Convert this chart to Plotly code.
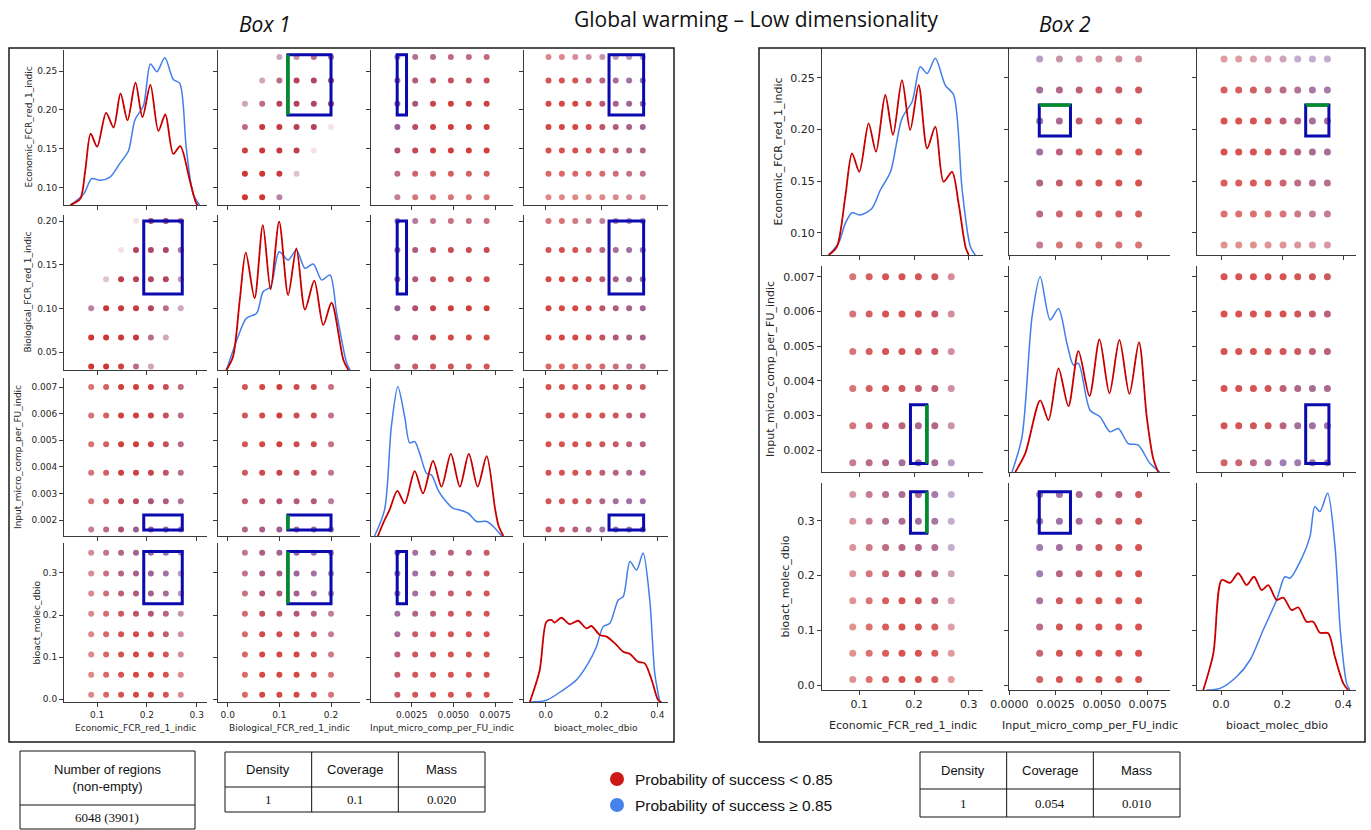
import plotly.graph_objects as go

# ------------------------------------------------------------------ data
VAR_NAMES = {'E': 'Economic_FCR_red_1_indic', 'B': 'Biological_FCR_red_1_indic',
             'I': 'Input_micro_comp_per_FU_indic', 'D': 'bioact_molec_dbio'}

E_LEVELS = [0.088, 0.118, 0.148, 0.178, 0.208, 0.238, 0.268]
B_LEVELS = [0.0333, 0.0667, 0.1, 0.1333, 0.1667, 0.2]
I_LEVELS = [0.00164, 0.00271, 0.00378, 0.00485, 0.00593, 0.0070]
D_LEVELS = [0.010, 0.058, 0.106, 0.154, 0.203, 0.251, 0.299, 0.348]
LEVELS = {'E': E_LEVELS, 'B': B_LEVELS, 'I': I_LEVELS, 'D': D_LEVELS}

# share of successful scenarios per grid cell (0 = red, 1 = blue); rows = first variable
B1_EB_P = [[0.05, 0.05, 0.50, None, None, None],
           [0.05, 0.05, 0.10, 0.50, None, None],
           [0.08, 0.10, 0.15, 0.20, 0.10, None],
           [0.35, 0.12, 0.15, 0.25, 0.30, 0.20],
           [0.45, 0.40, 0.30, 0.30, 0.35, 0.35],
           [None, 0.50, 0.40, 0.30, 0.35, 0.40],
           [None, None, 0.55, 0.40, 0.45, 0.50]]
B1_EB_A = [[1.0, 1.0, 0.7, None, None, None],
           [1.0, 1.0, 1.0, 0.35, None, None],
           [0.95, 1.0, 1.0, 1.0, 0.15, None],
           [0.8, 1.0, 1.0, 1.0, 1.0, 0.15],
           [0.5, 0.8, 1.0, 1.0, 1.0, 1.0],
           [None, 0.5, 0.8, 1.0, 1.0, 1.0],
           [None, None, 0.5, 0.6, 0.8, 0.8]]
B1_EI_P = [[0.40, 0.15, 0.12, 0.10, 0.10, 0.10],
           [0.35, 0.18, 0.12, 0.10, 0.10, 0.10],
           [0.40, 0.20, 0.08, 0.05, 0.05, 0.05],
           [0.60, 0.30, 0.10, 0.03, 0.05, 0.05],
           [0.65, 0.45, 0.15, 0.08, 0.08, 0.08],
           [0.65, 0.45, 0.25, 0.20, 0.20, 0.15],
           [0.70, 0.50, 0.40, 0.35, 0.35, 0.30]]
B1_EI_A = [0.7, 0.8, 0.95, 0.95, 0.95, 0.9, 0.8]
B1_ED_P = [[0.08, 0.08, 0.08, 0.10, 0.12, 0.15, 0.20, 0.25],
           [0.05, 0.05, 0.06, 0.08, 0.12, 0.20, 0.30, 0.35],
           [0.05, 0.04, 0.04, 0.06, 0.15, 0.30, 0.40, 0.45],
           [0.04, 0.03, 0.03, 0.05, 0.25, 0.40, 0.50, 0.55],
           [0.04, 0.03, 0.03, 0.08, 0.35, 0.50, 0.60, 0.65],
           [0.08, 0.06, 0.10, 0.25, 0.40, 0.55, 0.65, 0.70],
           [0.15, 0.15, 0.25, 0.35, 0.45, 0.55, 0.60, 0.65]]
B1_ED_A = [0.6, 0.75, 0.85, 0.9, 0.9, 0.85, 0.6]
B1_BI_P = [[0.45, 0.25, 0.12, 0.10, 0.10, 0.10],
           [0.50, 0.30, 0.10, 0.05, 0.05, 0.05],
           [0.60, 0.35, 0.12, 0.05, 0.05, 0.05],
           [0.60, 0.40, 0.20, 0.12, 0.12, 0.10],
           [0.65, 0.40, 0.20, 0.12, 0.12, 0.12],
           [0.70, 0.50, 0.35, 0.30, 0.30, 0.25]]
B1_BI_A = [0.85, 0.9, 0.95, 0.9, 0.9, 0.75]
B1_BD_P = [[0.05, 0.05, 0.05, 0.08, 0.15, 0.25, 0.35, 0.40],
           [0.03, 0.03, 0.03, 0.06, 0.20, 0.35, 0.45, 0.50],
           [0.03, 0.03, 0.03, 0.08, 0.25, 0.40, 0.50, 0.55],
           [0.04, 0.03, 0.04, 0.10, 0.35, 0.50, 0.60, 0.65],
           [0.06, 0.05, 0.06, 0.20, 0.40, 0.55, 0.65, 0.70],
           [0.12, 0.12, 0.20, 0.35, 0.45, 0.60, 0.65, 0.70]]
B1_BD_A = [0.75, 0.9, 0.9, 0.9, 0.85, 0.7]
B1_ID_P = [[0.20, 0.25, 0.35, 0.55, 0.65, 0.70, 0.70, 0.70],
           [0.08, 0.10, 0.12, 0.20, 0.45, 0.60, 0.65, 0.65],
           [0.05, 0.05, 0.06, 0.10, 0.30, 0.40, 0.50, 0.50],
           [0.05, 0.05, 0.05, 0.06, 0.12, 0.20, 0.30, 0.35],
           [0.05, 0.05, 0.05, 0.05, 0.08, 0.12, 0.25, 0.35],
           [0.05, 0.05, 0.05, 0.05, 0.06, 0.10, 0.15, 0.20]]
B1_ID_A = [0.85, 0.85, 0.85, 0.85, 0.85, 0.85]

B2_EI_P = [[0.35, 0.15, 0.12, 0.12, 0.12, 0.12],
           [0.40, 0.20, 0.10, 0.10, 0.10, 0.10],
           [0.45, 0.25, 0.10, 0.06, 0.05, 0.05],
           [0.60, 0.35, 0.15, 0.08, 0.05, 0.05],
           [0.65, 0.50, 0.25, 0.12, 0.08, 0.08],
           [0.55, 0.45, 0.30, 0.20, 0.20, 0.15],
           [0.70, 0.45, 0.35, 0.30, 0.30, 0.25]]
B2_EI_A = [0.7, 0.8, 0.85, 0.85, 0.85, 0.85, 0.6]
B2_ED_P = [[0.08, 0.08, 0.08, 0.10, 0.15, 0.20, 0.25, 0.30],
           [0.05, 0.05, 0.05, 0.08, 0.15, 0.25, 0.35, 0.35],
           [0.04, 0.04, 0.04, 0.06, 0.20, 0.35, 0.45, 0.45],
           [0.03, 0.03, 0.03, 0.05, 0.25, 0.40, 0.50, 0.55],
           [0.03, 0.03, 0.04, 0.10, 0.30, 0.45, 0.60, 0.55],
           [0.06, 0.06, 0.10, 0.30, 0.40, 0.50, 0.60, 0.65],
           [0.12, 0.12, 0.25, 0.35, 0.45, 0.70, 0.70, 0.75]]
B2_ED_A = [0.55, 0.7, 0.8, 0.85, 0.85, 0.8, 0.5]
B2_ID_P = [[0.15, 0.20, 0.35, 0.55, 0.75, 0.70, 0.65, 0.65],
           [0.08, 0.08, 0.10, 0.15, 0.40, 0.60, 0.65, 0.65],
           [0.05, 0.05, 0.05, 0.08, 0.30, 0.45, 0.55, 0.50],
           [0.04, 0.04, 0.04, 0.05, 0.10, 0.15, 0.30, 0.35],
           [0.04, 0.04, 0.04, 0.04, 0.06, 0.10, 0.20, 0.35],
           [0.04, 0.04, 0.04, 0.04, 0.05, 0.08, 0.10, 0.15]]
B2_ID_A = [0.8, 0.85, 0.85, 0.85, 0.85, 0.85]

# KDE curves (value, relative density height)
B1_E_RED = [(0.046, 0), (0.066, 0.04), (0.076, 0.22), (0.087, 0.46), (0.100, 0.376), (0.118, 0.594),
            (0.133, 0.50), (0.147, 0.72), (0.161, 0.546), (0.177, 0.79), (0.191, 0.567), (0.207, 0.775),
            (0.223, 0.478), (0.237, 0.584), (0.253, 0.33), (0.267, 0.38), (0.286, 0.16), (0.299, 0.01), (0.302, 0)]
B1_E_BLUE = [(0.046, 0), (0.073, 0.07), (0.089, 0.17), (0.106, 0.16), (0.126, 0.18), (0.146, 0.27),
             (0.163, 0.35), (0.176, 0.55), (0.193, 0.64), (0.207, 0.91), (0.220, 0.86), (0.236, 0.95),
             (0.253, 0.81), (0.266, 0.785), (0.279, 0.37), (0.293, 0.07), (0.306, 0)]
B1_B_RED = [(-0.0025, 0), (0.0103, 0.086), (0.0233, 0.45), (0.035, 0.757), (0.052, 0.463), (0.068, 0.935),
            (0.083, 0.52), (0.0996, 0.957), (0.117, 0.484), (0.133, 0.785), (0.1495, 0.39), (0.1676, 0.576),
            (0.185, 0.29), (0.201, 0.434), (0.224, 0.065), (0.2336, 0)]
B1_B_BLUE = [(-0.0025, 0), (0.02, 0.215), (0.036, 0.334), (0.056, 0.366), (0.0685, 0.505), (0.083, 0.537),
             (0.0996, 0.763), (0.117, 0.71), (0.133, 0.774), (0.1495, 0.656), (0.1656, 0.684), (0.182, 0.58),
             (0.198, 0.613), (0.211, 0.366), (0.2305, 0.043), (0.237, 0)]
B1_I_RED = [(0.00047, 0), (0.00087, 0.10), (0.00117, 0.165), (0.00164, 0.285), (0.00208, 0.206),
            (0.00268, 0.411), (0.00318, 0.27), (0.00378, 0.475), (0.00429, 0.312), (0.00485, 0.52),
            (0.00539, 0.312), (0.00593, 0.52), (0.00646, 0.312), (0.0070, 0.506), (0.0075, 0.175),
            (0.0077, 0.07), (0.0080, 0)]
B1_I_BLUE = [(0.00027, 0), (0.00087, 0.165), (0.00128, 0.692), (0.00167, 0.945), (0.00208, 0.755),
             (0.00238, 0.59), (0.00268, 0.597), (0.00298, 0.523), (0.00339, 0.397), (0.00369, 0.386),
             (0.00408, 0.291), (0.00449, 0.228), (0.00499, 0.175), (0.00539, 0.165), (0.00589, 0.144),
             (0.0064, 0.092), (0.0070, 0.092), (0.0074, 0.06), (0.0079, 0)]
B1_D_RED = [(-0.057, 0), (-0.0215, 0.20), (0.0025, 0.505), (0.0205, 0.516), (0.032, 0.499), (0.056, 0.53),
            (0.086, 0.49), (0.116, 0.511), (0.146, 0.463), (0.164, 0.478), (0.194, 0.421), (0.218, 0.411),
            (0.248, 0.369), (0.278, 0.316), (0.302, 0.302), (0.331, 0.253), (0.355, 0.243), (0.38, 0.138),
            (0.403, 0.013), (0.415, 0)]
B1_D_BLUE = [(-0.057, 0), (0.0025, 0.011), (0.062, 0.075), (0.11, 0.138), (0.152, 0.243), (0.182, 0.348),
             (0.206, 0.474), (0.23, 0.495), (0.26, 0.642), (0.278, 0.663), (0.302, 0.883), (0.326, 0.83),
             (0.349, 0.937), (0.373, 0.642), (0.391, 0.18), (0.409, 0)]

B2_E_RED = [(0.0439, 0), (0.059, 0.04), (0.0744, 0.282), (0.0867, 0.491), (0.100, 0.402), (0.117, 0.636),
            (0.1305, 0.499), (0.1475, 0.773), (0.1616, 0.58), (0.178, 0.845), (0.193, 0.604), (0.2085, 0.821),
            (0.224, 0.515), (0.239, 0.62), (0.254, 0.354), (0.2695, 0.402), (0.2815, 0.249), (0.294, 0.04),
            (0.300, 0)]
B2_E_BLUE = [(0.0439, 0), (0.062, 0.057), (0.0744, 0.153), (0.0867, 0.204), (0.102, 0.193), (0.123, 0.225),
             (0.1385, 0.314), (0.157, 0.402), (0.178, 0.66), (0.1965, 0.74), (0.2115, 0.909), (0.224, 0.877),
             (0.239, 0.95), (0.257, 0.821), (0.2725, 0.773), (0.288, 0.314), (0.303, 0.04), (0.312, 0)]
B2_I_RED = [(0.00032, 0), (0.00086, 0.09), (0.00167, 0.348), (0.00212, 0.252), (0.00266, 0.503),
            (0.0032, 0.32), (0.00374, 0.587), (0.00434, 0.369), (0.00488, 0.644), (0.00542, 0.382),
            (0.00596, 0.641), (0.0065, 0.379), (0.00702, 0.63), (0.00744, 0.268), (0.00779, 0.066),
            (0.00806, 0)]
B2_I_BLUE = [(0.000146, 0.0), (0.000686, 0.172), (0.00123, 0.754), (0.00167, 0.948), (0.00221, 0.738),
             (0.00266, 0.794), (0.00312, 0.624), (0.00347, 0.519), (0.00374, 0.527), (0.00437, 0.30),
             (0.00491, 0.268), (0.00545, 0.195), (0.0059, 0.211), (0.00644, 0.138), (0.00698, 0.13),
             (0.00761, 0.042), (0.00815, 0)]
B2_D_RED = [(-0.058, 0), (-0.025, 0.177), (0.0023, 0.531), (0.0294, 0.518), (0.0565, 0.564), (0.084, 0.507),
            (0.108, 0.547), (0.133, 0.483), (0.1546, 0.507), (0.182, 0.435), (0.2036, 0.446), (0.231, 0.386),
            (0.2526, 0.399), (0.28, 0.33), (0.3016, 0.33), (0.3235, 0.277), (0.3507, 0.274), (0.3725, 0.161),
            (0.40, 0.032), (0.416, 0)]
B2_D_BLUE = [(-0.047, 0), (-0.003, 0.008), (0.051, 0.064), (0.095, 0.145), (0.138, 0.29), (0.182, 0.435),
             (0.209, 0.547), (0.2255, 0.54), (0.264, 0.636), (0.291, 0.741), (0.307, 0.886), (0.3235, 0.862),
             (0.3487, 0.95), (0.3725, 0.70), (0.391, 0.274), (0.411, 0.032), (0.4216, 0)]

# box (restricted region) limits
BOX1_LIMITS = {'E': (0.1936, 0.271), 'B': (0.1165, 0.2), 'I': (0.00163, 0.00219), 'D': (0.227, 0.351)}
BOX2_LIMITS = {'E': (0.1935, 0.2235), 'I': (0.00162, 0.00331), 'D': (0.277, 0.353)}

# tick labels
B1_XTICKS = {'E': ['0.1', '0.2', '0.3'], 'B': ['0.0', '0.1', '0.2'],
             'I': ['0.0025', '0.0050', '0.0075'], 'D': ['0.0', '0.2', '0.4']}
B1_YTICKS = {'E': ['0.10', '0.15', '0.20', '0.25'], 'B': ['0.05', '0.10', '0.15', '0.20'],
             'I': ['0.002', '0.003', '0.004', '0.005', '0.006', '0.007'], 'D': ['0.0', '0.1', '0.2', '0.3']}
B2_XTICKS = {'E': ['0.1', '0.2', '0.3'], 'I': ['0.0000', '0.0025', '0.0050', '0.0075'],
             'D': ['0.0', '0.2', '0.4']}
B2_YTICKS = {'E': ['0.10', '0.15', '0.20', '0.25'],
             'I': ['0.002', '0.003', '0.004', '0.005', '0.006', '0.007'], 'D': ['0.0', '0.1', '0.2', '0.3']}

TITLE = 'Global warming – Low dimensionality'
BOX_TITLES = ['Box 1', 'Box 2']
TABLE_HEADERS = ['Density', 'Coverage', 'Mass']
BOX1_STATS = ['1', '0.1', '0.020']
BOX2_STATS = ['1', '0.054', '0.010']
REGIONS_LABEL = 'Number of regions<br>(non-empty)'
REGIONS_VALUE = '6048 (3901)'
LEGEND_LABELS = ['Probability of success < 0.85', 'Probability of success ≥ 0.85']

# ------------------------------------------------------------------ styling / layout
W, H = 1371, 830
RED = (212, 50, 42)
BLUE = (105, 108, 205)
KDE_RED = 'rgb(215,0,0)'
KDE_BLUE = 'rgb(65,125,235)'
RECT_BLUE = 'rgb(10,10,175)'
RECT_GREEN = 'rgb(0,140,40)'
AXC = '#3a3a3a'


def px(x):
    return x / W


def py(y):
    return 1 - y / H


def dot_color(p, a):
    r = RED[0] * (1 - p) + BLUE[0] * p
    g = RED[1] * (1 - p) + BLUE[1] * p
    b = RED[2] * (1 - p) + BLUE[2] * p
    return f'rgba({r:.0f},{g:.0f},{b:.0f},{a:.2f})'


fig = go.Figure()
layout = {}
shapes = []
annotations = []
counters = {'x': 0, 'y': 0}


def new_id(kind):
    counters[kind] += 1
    return counters[kind]


def aname(kind, n):
    return f'{kind}axis' if n == 1 else f'{kind}axis{n}'


def aref(kind, n):
    return kind if n == 1 else f'{kind}{n}'


def axis_dict(domain, rng, anchor, labels, show, fs):
    return dict(domain=domain, range=rng, anchor=anchor, showline=True, linecolor=AXC, linewidth=1,
                ticks='outside', ticklen=4, tickwidth=1, tickcolor=AXC, automargin=False,
                tickvals=[float(s) for s in labels], ticktext=labels, showticklabels=show,
                tickfont=dict(family='DejaVu Sans', size=fs, color='#262626'),
                showgrid=False, zeroline=False, fixedrange=True, layer='above traces')


def get_cell(grids, rv, cv, i_r, i_c):
    if (rv, cv) in grids:
        P, A = grids[(rv, cv)]
        p = P[i_r][i_c]
        a = A[i_r][i_c] if isinstance(A[i_r], list) else A[i_r]
    else:
        P, A = grids[(cv, rv)]
        p = P[i_c][i_r]
        a = A[i_c][i_r] if isinstance(A[i_c], list) else A[i_c]
    return p, a


def add_box(spec):
    vs = spec['vars']
    nv = len(vs)
    for r, rv in enumerate(vs):
        for c, cv in enumerate(vs):
            xi, yi = new_id('x'), new_id('y')
            x0, x1 = spec['cols'][c]
            y0, y1 = spec['rows'][r]
            layout[aname('x', xi)] = axis_dict([px(x0), px(x1)], spec['xr'][cv], aref('y', yi),
                                               spec['xt'][cv], r == nv - 1, spec['fs'])
            layout[aname('y', yi)] = axis_dict([py(y1), py(y0)], spec['yr'][rv], aref('x', xi),
                                               spec['yt'][rv], c == 0, spec['fs'])
            if r == c:
                # empty trace so that the main (x, y) subplot of the diagonal cell exists
                fig.add_trace(go.Scatter(x=[None], y=[None], mode='markers', showlegend=False,
                                         xaxis=aref('x', xi), yaxis=aref('y', yi), hoverinfo='skip'))
                yo = new_id('y')
                layout[aname('y', yo)] = dict(domain=[py(y1), py(y0)], anchor=aref('x', xi), range=[0, 1],
                                              visible=False, fixedrange=True, automargin=False,
                                              showgrid=False, zeroline=False)
                for pts, col, w in ((spec['kde'][cv][1], KDE_BLUE, 1.5), (spec['kde'][cv][0], KDE_RED, 1.8)):
                    fig.add_trace(go.Scatter(x=[p[0] for p in pts], y=[p[1] for p in pts], mode='lines',
                                             line=dict(color=col, width=w, shape='spline', smoothing=0.8),
                                             xaxis=aref('x', xi), yaxis=aref('y', yo), hoverinfo='skip'))
                pts = spec['kde'][cv][0]
                fig.add_trace(go.Scatter(x=[p[0] for p in pts], y=[p[1] for p in pts], mode='lines',
                                         line=dict(color='rgba(60,0,0,0.35)', width=0.8, dash='3px,3px',
                                                   shape='spline', smoothing=0.8),
                                         xaxis=aref('x', xi), yaxis=aref('y', yo), hoverinfo='skip'))
            else:
                xs, ys, cols = [], [], []
                for i_r, yv in enumerate(LEVELS[rv]):
                    for i_c, xv in enumerate(LEVELS[cv]):
                        p, a = get_cell(spec['grids'], rv, cv, i_r, i_c)
                        if p is None:
                            continue
                        xs.append(xv)
                        ys.append(yv)
                        cols.append(dot_color(p, a))
                fig.add_trace(go.Scatter(x=xs, y=ys, mode='markers',
                                         marker=dict(size=spec['dot'], color=cols, line=dict(width=0)),
                                         xaxis=aref('x', xi), yaxis=aref('y', yi), hoverinfo='skip'))
                lim = spec['limits']
                xa, xb = lim[cv]
                ya, yb = lim[rv]
                xr_, yr_ = aref('x', xi), aref('y', yi)
                shapes.append(dict(type='rect', xref=xr_, yref=yr_, x0=xa, x1=xb, y0=ya, y1=yb,
                                   line=dict(color=RECT_BLUE, width=3), layer='above'))
                gv, gside, gaxes = spec['green']
                if cv == gv and 'x' in gaxes:
                    gx = xa if gside == 'low' else xb
                    shapes.append(dict(type='line', xref=xr_, yref=yr_, x0=gx, x1=gx, y0=ya, y1=yb,
                                       line=dict(color=RECT_GREEN, width=3.5), layer='above'))
                if rv == gv and 'y' in gaxes:
                    gy = ya if gside == 'low' else yb
                    shapes.append(dict(type='line', xref=xr_, yref=yr_, x0=xa, x1=xb, y0=gy, y1=gy,
                                       line=dict(color=RECT_GREEN, width=3.5), layer='above'))
    # axis titles
    for c, cv in enumerate(vs):
        x0, x1 = spec['cols'][c]
        annotations.append(dict(text=VAR_NAMES[cv], x=px((x0 + x1) / 2), y=py(spec['xtitle_y']), xref='paper',
                                yref='paper', showarrow=False, xanchor='center', yanchor='middle',
                                font=dict(family='DejaVu Sans', size=spec['fs'], color='#262626')))
    for r, rv in enumerate(vs):
        y0, y1 = spec['rows'][r]
        annotations.append(dict(text=VAR_NAMES[rv], x=px(spec['ytitle_x'][r]), y=py((y0 + y1) / 2), xref='paper',
                                yref='paper', showarrow=False, textangle=-90, xanchor='center',
                                yanchor='middle',
                                font=dict(family='DejaVu Sans', size=spec['fs'], color='#262626')))


box1 = dict(vars=['E', 'B', 'I', 'D'],
            cols=[(64, 207), (218, 360), (371, 513), (524, 668)],
            rows=[(50, 205), (215, 370), (378, 536), (543, 702)],
            xr={'E': [0.0334, 0.3207], 'B': [-0.0188, 0.2561], 'I': [0.000058, 0.00858], 'D': [-0.0778, 0.4384]},
            yr={'E': [0.078, 0.277], 'B': [0.0294, 0.2069], 'I': [0.0014, 0.00734], 'D': [-0.0071, 0.3714]},
            xt=B1_XTICKS, yt=B1_YTICKS, fs=9, dot=6,
            grids={('E', 'B'): (B1_EB_P, B1_EB_A), ('E', 'I'): (B1_EI_P, B1_EI_A), ('E', 'D'): (B1_ED_P, B1_ED_A),
                   ('B', 'I'): (B1_BI_P, B1_BI_A), ('B', 'D'): (B1_BD_P, B1_BD_A), ('I', 'D'): (B1_ID_P, B1_ID_A)},
            kde={'E': (B1_E_RED, B1_E_BLUE), 'B': (B1_B_RED, B1_B_BLUE), 'I': (B1_I_RED, B1_I_BLUE),
                 'D': (B1_D_RED, B1_D_BLUE)},
            limits=BOX1_LIMITS, green=('B', 'low', 'x'),
            xtitle_y=728, ytitle_x=[28, 28, 18, 36])
box2 = dict(vars=['E', 'I', 'D'],
            cols=[(822, 983), (1009, 1170), (1197, 1356)],
            rows=[(48, 255), (266, 472), (483, 690)],
            xr={'E': [0.0318, 0.3261], 'I': [-0.00002, 0.0087], 'D': [-0.0785, 0.4416]},
            yr={'E': [0.0784, 0.2787], 'I': [0.001375, 0.00731], 'D': [-0.0091, 0.3688]},
            xt=B2_XTICKS, yt=B2_YTICKS, fs=11, dot=7,
            grids={('E', 'I'): (B2_EI_P, B2_EI_A), ('E', 'D'): (B2_ED_P, B2_ED_A), ('I', 'D'): (B2_ID_P, B2_ID_A)},
            kde={'E': (B2_E_RED, B2_E_BLUE), 'I': (B2_I_RED, B2_I_BLUE), 'D': (B2_D_RED, B2_D_BLUE)},
            limits=BOX2_LIMITS, green=('E', 'high', 'xy'),
            xtitle_y=725, ytitle_x=[778, 770, 785])

add_box(box1)
add_box(box2)

# frames around the two boxes
for x0, x1 in ((9, 674), (759, 1365)):
    shapes.append(dict(type='rect', xref='paper', yref='paper', x0=px(x0), x1=px(x1), y0=py(742), y1=py(48),
                       line=dict(color='#1a1a1a', width=1.5)))

# titles
annotations.append(dict(text=TITLE, x=px(756), y=py(19), xref='paper', yref='paper', showarrow=False,
                        xanchor='center', yanchor='middle',
                        font=dict(family='Open Sans', size=21, color='#111')))
for t, xc in zip(BOX_TITLES, (265, 1065)):
    annotations.append(dict(text=f'<i>{t}</i>', x=px(xc), y=py(24), xref='paper', yref='paper', showarrow=False,
                            xanchor='center', yanchor='middle',
                            font=dict(family='Open Sans', size=21, color='#111')))


def hline(x0, x1, y):
    shapes.append(dict(type='line', xref='paper', yref='paper', x0=px(x0), x1=px(x1), y0=py(y), y1=py(y),
                       line=dict(color='#111', width=1)))


def vline(x, y0, y1):
    shapes.append(dict(type='line', xref='paper', yref='paper', x0=px(x), x1=px(x), y0=py(y0), y1=py(y1),
                       line=dict(color='#111', width=1)))


def text(t, x, y, size=13, family='Liberation Sans'):
    annotations.append(dict(text=t, x=px(x), y=py(y), xref='paper', yref='paper', showarrow=False,
                            xanchor='center', yanchor='middle', font=dict(family=family, size=size, color='#111')))


# table: number of regions
for y in (751, 805, 829):
    hline(20, 195, y)
for x in (20, 195):
    vline(x, 751, 829)
text(REGIONS_LABEL, 107, 778, 13)
text(REGIONS_VALUE, 107, 817, 13, 'Liberation Serif')

# density / coverage / mass tables
for (left, right, top, mid, bot, stats) in ((225, 485, 752, 787, 812, BOX1_STATS),
                                            (920, 1180, 752, 789, 817, BOX2_STATS)):
    for y in (top, mid, bot):
        hline(left, right, y)
    w = (right - left) / 3
    for k in range(4):
        vline(left + k * w, top, bot)
    for k in range(3):
        xc = left + (k + 0.5) * w
        text(TABLE_HEADERS[k], xc, (top + mid) / 2, 13)
        text(stats[k], xc, (mid + bot) / 2, 13, 'Liberation Serif')

# legend
for lab, col, y in ((LEGEND_LABELS[0], 'rgb(205,25,20)', 779), (LEGEND_LABELS[1], 'rgb(70,130,235)', 805)):
    shapes.append(dict(type='circle', xref='paper', yref='paper', x0=px(610), x1=px(624), y0=py(y + 7),
                       y1=py(y - 7), fillcolor=col, line=dict(width=0)))
    annotations.append(dict(text=lab, x=px(633), y=py(y), xref='paper', yref='paper', showarrow=False,
                            xanchor='left', yanchor='middle',
                            font=dict(family='Liberation Sans', size=15.5, color='#111')))

layout.update(dict(width=W, height=H, autosize=False, margin=dict(l=0, r=0, t=0, b=0),
                   paper_bgcolor='white', plot_bgcolor='white', showlegend=False,
                   shapes=shapes, annotations=annotations))
fig.update_layout(**layout)
fig.write_html('out.html', config={'displayModeBar': False},
               post_script="document.body.style.margin='0px';")
